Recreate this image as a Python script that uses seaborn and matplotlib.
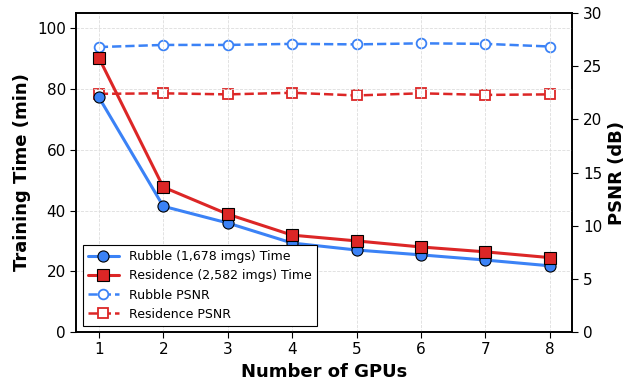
import numpy as np
import pandas as pd
import matplotlib
matplotlib.use("Agg")
import matplotlib.pyplot as plt
import seaborn as sns

# ----------------------------- DATA -----------------------------
gpus = [1, 2, 3, 4, 5, 6, 7, 8]
rubble_time = [77.3, 41.4, 35.9, 29.3, 27.0, 25.4, 23.7, 21.8]
residence_time = [90.3, 47.7, 38.8, 31.9, 30.0, 28.0, 26.4, 24.5]
rubble_psnr = [26.8, 27.0, 27.0, 27.1, 27.05, 27.15, 27.1, 26.85]
residence_psnr = [22.4, 22.45, 22.35, 22.5, 22.25, 22.45, 22.3, 22.35]

BLUE = "#3b82f6"
RED = "#dc2626"

# ----------------------------- PLOT -----------------------------
sns.set_style("ticks", {"axes.edgecolor": "black", "text.color": "black",
                        "axes.labelcolor": "black", "xtick.color": "black",
                        "ytick.color": "black"})
plt.rcParams["font.family"] = ["DejaVu Sans"]

fig, ax = plt.subplots(figsize=(6.41, 3.83), dpi=100)
ax2 = ax.twinx()

df = pd.DataFrame({"gpus": gpus, "rt": rubble_time, "st": residence_time,
                   "rp": rubble_psnr, "sp": residence_psnr})

sns.lineplot(data=df, x="gpus", y="rt", ax=ax, color=BLUE, lw=2.2, marker="o",
             markersize=8, markerfacecolor=BLUE, markeredgecolor="black",
             markeredgewidth=0.8, label="Rubble (1,678 imgs) Time", legend=False)
sns.lineplot(data=df, x="gpus", y="st", ax=ax, color=RED, lw=2.2, marker="s",
             markersize=8, markerfacecolor=RED, markeredgecolor="black",
             markeredgewidth=0.8, label="Residence (2,582 imgs) Time", legend=False)
sns.lineplot(data=df, x="gpus", y="rp", ax=ax2, color=BLUE, lw=1.8, ls="--",
             marker="o", markersize=7, markerfacecolor="white",
             markeredgecolor=BLUE, markeredgewidth=1.3, label="Rubble PSNR", legend=False)
sns.lineplot(data=df, x="gpus", y="sp", ax=ax2, color=RED, lw=1.8, ls="--",
             marker="s", markersize=7, markerfacecolor="white",
             markeredgecolor=RED, markeredgewidth=1.3, label="Residence PSNR", legend=False)

ax.set_ylim(0, 105)
ax2.set_ylim(0, 30)
ax.set_xticks(gpus)
ax.set_yticks([0, 20, 40, 60, 80, 100])
ax2.set_yticks([0, 5, 10, 15, 20, 25, 30])

ax.set_xlabel("Number of GPUs", fontsize=13, fontweight="bold")
ax.set_ylabel("Training Time (min)", fontsize=13, fontweight="bold")
ax2.set_ylabel("PSNR (dB)", fontsize=13, fontweight="bold")

ax.grid(True, ls="--", lw=0.6, color="#dddddd")
for a in (ax, ax2):
    a.tick_params(labelsize=11, direction="out", length=4, colors="black")
    for s in a.spines.values():
        s.set_linewidth(1.2)
        s.set_color("black")

h1, l1 = ax.get_legend_handles_labels()
h2, l2 = ax2.get_legend_handles_labels()
leg = ax.legend(h1 + h2, l1 + l2, loc="lower left", fontsize=9, fancybox=False,
                edgecolor="black", framealpha=1.0, borderpad=0.4,
                handlelength=2.5)
leg.get_frame().set_linewidth(0.8)
ax.set_zorder(ax2.get_zorder() + 1)
ax.patch.set_visible(False)

fig.subplots_adjust(left=0.119, right=0.893, top=0.966, bottom=0.133)
fig.savefig("out.png", dpi=100)
